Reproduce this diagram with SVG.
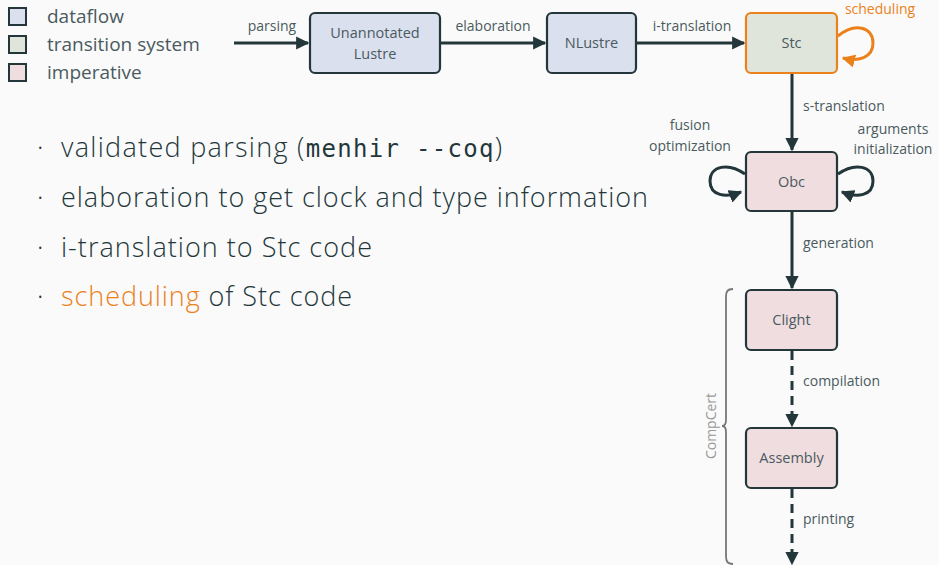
<svg xmlns="http://www.w3.org/2000/svg" width="939" height="565" viewBox="0 0 939 565">
<style>
text{font-family:"Open Sans","Noto Sans",sans-serif;fill:#4a5a5e}
.lbl{font-size:14px}
.node rect{stroke:#23373b;stroke-width:2.2}
.nt{font-size:14.5px;text-anchor:middle}
.df{fill:#dbe0ef}
.ts{fill:#e0e5dc}
.im{fill:#f0dde0}
.edge{fill:none;stroke:#23373b;stroke-width:3}
.dash{stroke-dasharray:9 6}
.big{font-size:27px;fill:#23373b;font-weight:300}
.mono{font-family:"DejaVu Sans Mono","Liberation Mono",monospace;font-size:24px;font-weight:400}
.leg rect{stroke:#23373b;stroke-width:2}
.leg text{font-size:19px}
</style>
<defs>
<marker id="ah" viewBox="0 0 10 10" refX="9" refY="5" markerWidth="4.4" markerHeight="4.4" orient="auto" markerUnits="strokeWidth">
<path d="M0,0 L10,5 L0,10 z" fill="#23373b"/>
</marker>
<marker id="ao" viewBox="0 0 10 10" refX="9" refY="5" markerWidth="4.4" markerHeight="4.4" orient="auto" markerUnits="strokeWidth">
<path d="M0,0 L10,5 L0,10 z" fill="#eb811b"/>
</marker>
</defs>
<rect width="939" height="565" fill="#fafafa"/>

<g id="legend" class="leg">
<rect x="9" y="8" width="17" height="17" class="df"/>
<text x="47" y="23">dataflow</text>
<rect x="9" y="36" width="17" height="17" class="ts"/>
<text x="47" y="51">transition system</text>
<rect x="9" y="64" width="17" height="17" class="im"/>
<text x="47" y="79">imperative</text>
</g>

<g id="bullets">
<text class="big" x="37" y="157">·</text>
<text class="big" x="61" y="157" textLength="441">validated parsing (<tspan class="mono" fill="#23373b">menhir --coq</tspan>)</text>
<text class="big" x="37" y="207">·</text>
<text class="big" x="61" y="207" textLength="587">elaboration to get clock and type information</text>
<text class="big" x="37" y="257">·</text>
<text class="big" x="61" y="257" textLength="311">i-translation to Stc code</text>
<text class="big" x="37" y="306">·</text>
<text class="big" x="61" y="306" textLength="291"><tspan fill="#eb811b">scheduling</tspan> of Stc code</text>
</g>

<g id="n-unannotated" class="node">
<rect x="310" y="13" width="130" height="60" rx="5" class="df"/>
<text class="nt" x="375" y="38">Unannotated</text>
<text class="nt" x="375" y="59">Lustre</text>
</g>
<g id="n-nlustre" class="node">
<rect x="547" y="13" width="89" height="60" rx="5" class="df"/>
<text class="nt" x="591.5" y="48">NLustre</text>
</g>
<g id="n-stc" class="node">
<rect x="746" y="13" width="91" height="60" rx="5" class="ts" style="stroke:#eb811b"/>
<text class="nt" x="791.5" y="48">Stc</text>
</g>
<g id="n-obc" class="node">
<rect x="746" y="152" width="91" height="59" rx="5" class="im"/>
<text class="nt" x="791.5" y="187">Obc</text>
</g>
<g id="n-clight" class="node">
<rect x="746" y="290" width="91" height="60" rx="5" class="im"/>
<text class="nt" x="791.5" y="325">Clight</text>
</g>
<g id="n-assembly" class="node">
<rect x="746" y="428" width="91" height="60" rx="5" class="im"/>
<text class="nt" x="791.5" y="463">Assembly</text>
</g>

<g id="connectors">
<path class="edge" d="M234,43 H308" marker-end="url(#ah)"/>
<text class="lbl" x="272" y="31" text-anchor="middle">parsing</text>
<path class="edge" d="M441,43 H545" marker-end="url(#ah)"/>
<text class="lbl" x="493" y="31" text-anchor="middle">elaboration</text>
<path class="edge" d="M637,43 H744" marker-end="url(#ah)"/>
<text class="lbl" x="692" y="31" text-anchor="middle">i-translation</text>
<path class="edge" d="M838,36 C855,22 873,27 873,43 C873,58 858,62 843,58" style="stroke:#eb811b" marker-end="url(#ao)"/>
<text class="lbl" x="880" y="14" text-anchor="middle" style="fill:#eb811b">scheduling</text>
<path class="edge" d="M792,74 V150" marker-end="url(#ah)"/>
<text class="lbl" x="803" y="111">s-translation</text>
<path class="edge" d="M745,174 C728,162 710,166 710,181 C710,196 726,198 741,192" marker-end="url(#ah)"/>
<text class="lbl" x="690" y="130" text-anchor="middle">fusion</text>
<text class="lbl" x="690" y="151" text-anchor="middle">optimization</text>
<path class="edge" d="M838,174 C855,162 873,166 873,181 C873,196 857,198 842,192" marker-end="url(#ah)"/>
<text class="lbl" x="893" y="134" text-anchor="middle">arguments</text>
<text class="lbl" x="893" y="154" text-anchor="middle">initialization</text>
<path class="edge" d="M792,212 V288" marker-end="url(#ah)"/>
<text class="lbl" x="803" y="248">generation</text>
<path class="edge dash" d="M792,351 V426" marker-end="url(#ah)"/>
<text class="lbl" x="803" y="386">compilation</text>
<path class="edge dash" d="M792,489 V564" marker-end="url(#ah)"/>
<text class="lbl" x="803" y="524">printing</text>
</g>

<g id="compcert">
<path d="M733,289 C727,289 726,292 726,297 V420 C726,424 725,426 722,426 C725,426 726,428 726,432 V556 C726,561 727,564 733,564" fill="none" stroke="#777" stroke-width="1.8"/>
<text class="lbl" x="0" y="0" transform="translate(716,426) rotate(-90)" text-anchor="middle" style="fill:#999">CompCert</text>
</g>
</svg>
